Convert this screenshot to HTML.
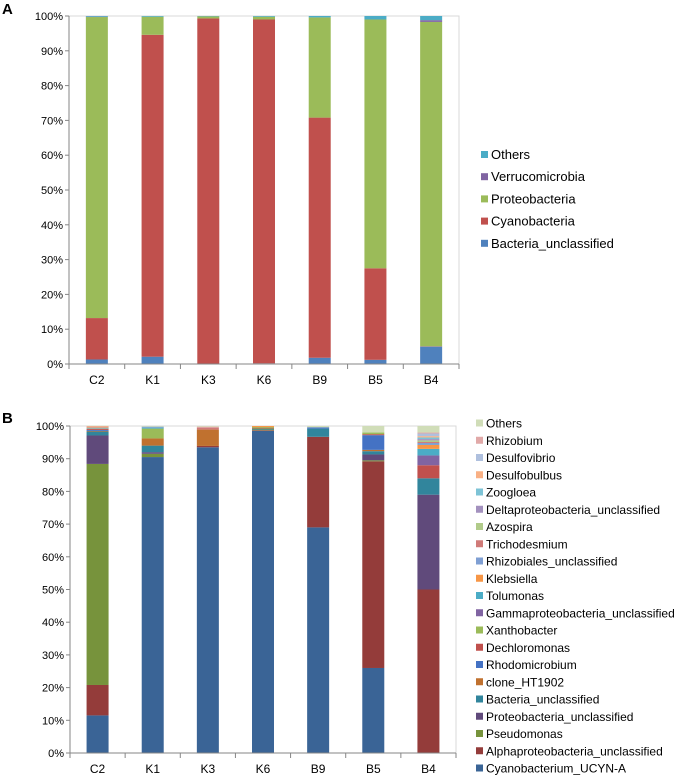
<!DOCTYPE html>
<html><head><meta charset="utf-8"><style>
body{margin:0;background:#fff;width:684px;height:778px;overflow:hidden;font-family:"Liberation Sans",Arial,sans-serif}
svg text{font-family:"Liberation Sans",Arial,sans-serif}
</style></head><body>
<svg id="svg" width="684" height="778" xmlns="http://www.w3.org/2000/svg">
<text x="2" y="14" font-size="15" font-weight="bold">A</text>
<text x="2" y="423" font-size="15" font-weight="bold">B</text>
<g id="chartA"></g>
<g id="chartB"></g>
</svg>
<script>
const categories = ["C2","K1","K3","K6","B9","B5","B4"];
const yTicks = ["0%","10%","20%","30%","40%","50%","60%","70%","80%","90%","100%"];
const seriesA = ["Bacteria_unclassified","Cyanobacteria","Proteobacteria","Verrucomicrobia","Others"];
const valuesA_bacteria = [1.3,2.1,0.1,0.2,1.8,1.2,5];
const valuesA_cyano = [11.9,92.5,99.2,98.8,69,26.3,0.1];
const valuesA_proteo = [86.5,5.2,0.6,0.8,28.8,71.5,93.2];
const valuesA_verruco = [0.1,0,0,0,0,0,0.5];
const valuesA_others = [0.2,0.2,0.1,0.2,0.4,1.0,1.2];
const seriesB = ["Cyanobacterium_UCYN-A","Alphaproteobacteria_unclassified","Pseudomonas","Proteobacteria_unclassified","Bacteria_unclassified","clone_HT1902","Rhodomicrobium","Dechloromonas","Xanthobacter","Gammaproteobacteria_unclassified","Tolumonas","Klebsiella","Rhizobiales_unclassified","Trichodesmium","Azospira","Deltaproteobacteria_unclassified","Zoogloea","Desulfobulbus","Desulfovibrio","Rhizobium","Others"];
// rows: one per series (bottom to top), columns: categories
const valuesB = [
[11.5,90.5,93.5,98.5,69,26,0],
[9.3,0,0.4,0.2,27.7,63.2,50],
[67.6,1,0,0.2,0,0.3,0],
[8.7,0.5,0,0,0,1.8,29],
[1.2,2,0,0.3,2.5,1,5],
[0.2,2.2,5,0.3,0,0.4,0],
[0.3,0,0,0,0.4,4.5,0],
[0.3,0,0,0,0,0.3,4],
[0.1,3,0,0.2,0,0.5,0],
[0.1,0,0,0,0,0,3],
[0.1,0.3,0,0,0,0,2],
[0.2,0,0,0.3,0,0,1.2],
[0.1,0.3,0,0,0,0,0.6],
[0.1,0,0.6,0,0,0,0.3],
[0,0,0,0,0,0,0.5],
[0,0,0,0,0,0,0.4],
[0,0,0,0,0,0,0.5],
[0.2,0,0,0,0,0,0.4],
[0,0,0,0,0,0,0.8],
[0,0,0.3,0,0,0,0.3],
[0.1,0.2,0.2,0,0.4,2,2]
];
const colorsA = ["#4F81BD","#C0504D","#9BBB59","#8064A2","#4BACC6"];
const colorsB = ["#3A6496","#943C3A","#77933C","#604A7B","#31859C","#C0712F","#4472C4","#C0504D","#9BBB59","#8064A2","#4BACC6","#F79646","#7F9FD3","#D07A78","#B1CB8A","#A391BE","#7DC3D6","#F9B084","#AFC0DE","#E1A9A8","#D0DDB8"];
const NS="http://www.w3.org/2000/svg";
function mk(parent,tag,attrs){const e=document.createElementNS(NS,tag);for(const k in attrs)e.setAttribute(k,attrs[k]);parent.appendChild(e);return e;}
function draw(g,L,R,T,B,series,rows,colors,legX,legY,legStep,fs){
  const n=categories.length,cw=(R-L)/n,bw=22;
  const y=v=>B-(v/100)*(B-T);
  const xc=i=>L+cw*(i+0.5);
  const frame=mk(g,'path',{d:`M${L} ${T}H${R}V${B}`,fill:'none',stroke:'#D9D9D9','stroke-width':1});
  
  
  categories.forEach((c,i)=>{
    let acc=0;
    rows.forEach((row,s)=>{
      const v=row[i]; if(v<=0){return;}
      const r=mk(g,'rect',{x:xc(i)-bw/2,y:y(acc+v),width:bw,height:y(acc)-y(acc+v),fill:colors[s]});
      
      
      acc+=v;
    });
    const t=mk(g,'text',{x:xc(i),y:B+20,'font-size':12,'text-anchor':'middle',fill:'#000'});
    t.textContent=c;
    
    
  });
  for(let i=0;i<=n;i++){const tk=mk(g,'line',{x1:L+cw*i,x2:L+cw*i,y1:B,y2:B+5,stroke:'#868686'});
    
    }
  yTicks.forEach((lab,i)=>{
    const yy=y(i*10);
    const tk=mk(g,'line',{x1:L-4,x2:L,y1:yy,y2:yy,stroke:'#868686'});
    
    
    const t=mk(g,'text',{x:L-6,y:yy+4,'font-size':11,'text-anchor':'end',fill:'#000'});
    t.textContent=lab;
    
    
  });
  const ax=mk(g,'path',{d:`M${L} ${T}V${B}H${R}`,fill:'none',stroke:'#868686'});
  
  
  for(let k=0;k<series.length;k++){
    const s=series.length-1-k, yy=legY+k*legStep;
    const sq=mk(g,'rect',{x:legX,y:yy-4,width:7,height:7,fill:colors[s]});
    
    
    const t=mk(g,'text',{x:legX+10,y:yy+4,'font-size':fs,fill:'#000'});
    t.textContent=series[s];
    
    
  }
}
draw(document.getElementById('chartA'),69,459,16,364,seriesA,[valuesA_bacteria,valuesA_cyano,valuesA_proteo,valuesA_verruco,valuesA_others],colorsA,481,155,22.2,13);
draw(document.getElementById('chartB'),70,456,426,753,seriesB,valuesB,colorsB,476,423.5,17.25,12);
</script>
</body></html>
